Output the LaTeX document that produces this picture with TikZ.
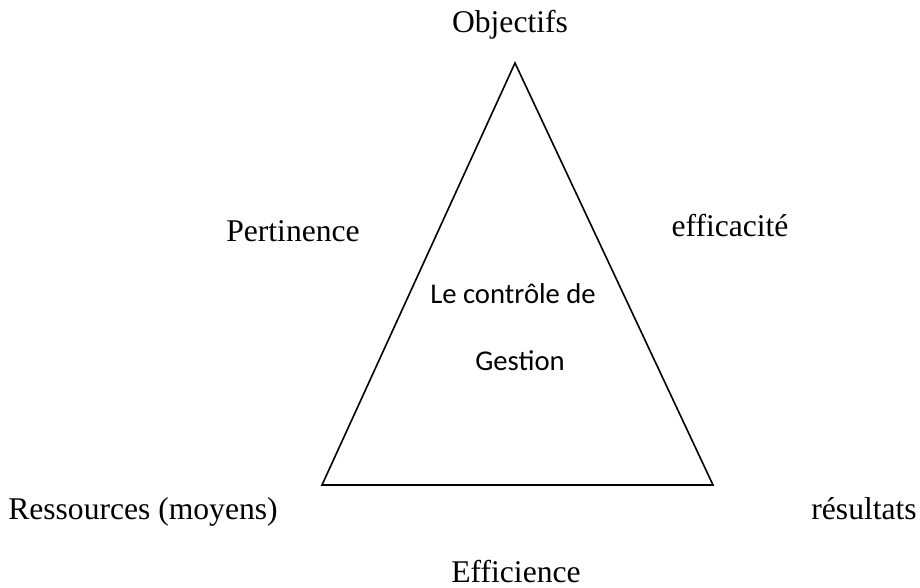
\documentclass[tikz,border=0pt]{standalone}
\usepackage{fontspec}
\setmainfont{Liberation Serif}
\newfontfamily\bodyfont{Carlito}
\begin{document}
\begin{tikzpicture}[x=0.75pt,y=-0.75pt,
  lbl/.style={anchor=base,inner sep=0pt,font=\fontsize{23.7}{28}\selectfont},
  inlbl/.style={anchor=base,inner sep=0pt,font=\bodyfont\fontsize{21.5}{26}\selectfont},
  edge/.style={line width=1.2pt,line join=miter}]
\useasboundingbox (0,0) rectangle (920,588);
% triangle corners
\coordinate (top) at (515,63);
\coordinate (bl) at (322,485);
\coordinate (br) at (713,485);
\draw[edge] (top) -- (bl) -- (br) -- cycle;
% labels around the triangle
\node[lbl] (obj) at (510,33) {Objectifs};
\node[lbl] (pert) at (293,241) {Pertinence};
\node[lbl] (effic) at (730,236) {efficacité};
\node[lbl,anchor=base west] (res) at (8,519) {Ressources (moyens)};
\node[lbl,anchor=base east] (resu) at (917,519) {résultats};
\node[lbl] (eff) at (516,582) {Efficience};
% text inside the triangle
\node[inlbl] (lc) at (513,303) {Le contrôle de};
\node[inlbl] (ge) at (520,370) {Gestion};
\end{tikzpicture}
\end{document}
